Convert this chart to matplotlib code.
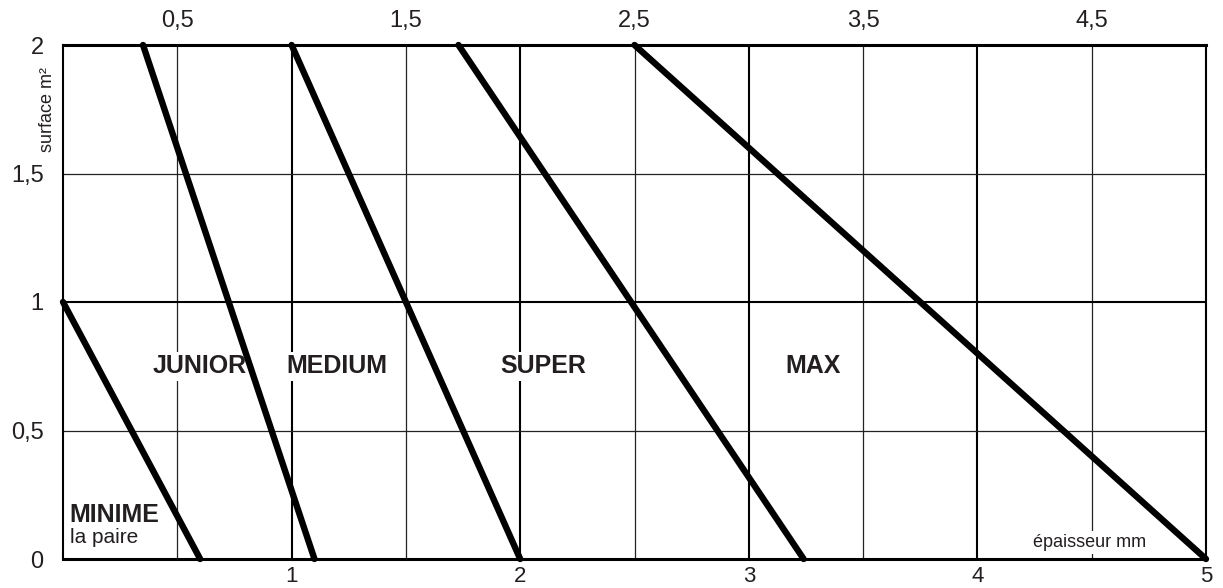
import matplotlib
matplotlib.use("Agg")
import matplotlib.pyplot as plt

plt.rcParams['font.family'] = ['Liberation Sans', 'DejaVu Sans']

# données : épaisseur (mm) aux extrémités de chaque droite
names = ["MINIME", "JUNIOR", "MEDIUM", "SUPER", "MAX"]
x_start = [0.0, 0.35, 1.0, 1.73, 2.5]
y_start = [1.0, 2.0, 2.0, 2.0, 2.0]
x_end = [0.6, 1.1, 2.0, 3.24, 5.0]
y_end = [0.0, 0.0, 0.0, 0.0, 0.0]

# positions des étiquettes
label_x = [0.03, 0.6, 1.2, 2.1, 3.28]
label_y = [0.17, 0.75, 0.75, 0.75, 0.75]

bottom_ticks = [1, 2, 3, 4, 5]
bottom_labels = ["1", "2", "3", "4", "5"]
top_ticks = [0.5, 1.5, 2.5, 3.5, 4.5]
top_labels = ["0,5", "1,5", "2,5", "3,5", "4,5"]
left_ticks = [0, 0.5, 1, 1.5, 2]
left_labels = ["0", "0,5", "1", "1,5", "2"]

fig = plt.figure(figsize=(12.23, 5.88), dpi=100)
ax = fig.add_axes([63 / 1223, 1 - 559 / 588, (1206 - 63) / 1223, (559 - 45) / 588])
ax.set_xlim(0, 5)
ax.set_ylim(0, 2)

# grille
for x in top_ticks:
    ax.axvline(x, color="#222222", lw=0.9, zorder=1)
for x in bottom_ticks[:-1]:
    ax.axvline(x, color="black", lw=1.5, zorder=1)
for y in [0.5, 1.5]:
    ax.axhline(y, color="#222222", lw=0.9, zorder=1)
ax.axhline(1, color="black", lw=1.5, zorder=1)

# droites
for i in range(len(names)):
    ax.plot([x_start[i], x_end[i]], [y_start[i], y_end[i]], color="black",
            lw=4.6, solid_capstyle="round", zorder=3, clip_on=False)

for i in range(1, len(names)):
    ax.text(label_x[i], label_y[i], names[i], fontsize=18, fontweight="bold",
            color="#231f20", ha="center", va="center", zorder=2,
            bbox=dict(facecolor="white", edgecolor="none", pad=2))

ax.text(label_x[0], label_y[0], names[0], fontsize=18, fontweight="bold",
        color="#231f20", ha="left", va="center", zorder=2)
ax.text(label_x[0], 0.085, "la paire", fontsize=15, color="#231f20",
        ha="left", va="center", zorder=2)

ax.text(4.49, 0.065, "épaisseur mm", fontsize=13, color="#231f20",
        ha="center", va="center", zorder=2,
        bbox=dict(facecolor="white", edgecolor="none", pad=2))

# axes
ax.spines["top"].set_linewidth(2.2)
ax.spines["bottom"].set_linewidth(2.2)
ax.spines["left"].set_linewidth(1.5)
ax.spines["right"].set_linewidth(1.5)

ax.set_xticks(bottom_ticks)
ax.set_xticklabels(bottom_labels, fontsize=16, color="#231f20")
ax.set_yticks(left_ticks)
ax.set_yticklabels(left_labels, fontsize=17, color="#231f20")
ax.tick_params(axis="x", length=0, pad=5)
ax.tick_params(axis="y", length=0, pad=14)

top = ax.secondary_xaxis("top")
top.set_xticks(top_ticks)
top.set_xticklabels(top_labels, fontsize=17, color="#231f20")
top.tick_params(length=0, pad=9)

fig.text(47 / 1223, 1 - 110 / 588, "surface m²", rotation=90, fontsize=13,
         color="#231f20", ha="center", va="center")

fig.savefig("out.png", dpi=100)
